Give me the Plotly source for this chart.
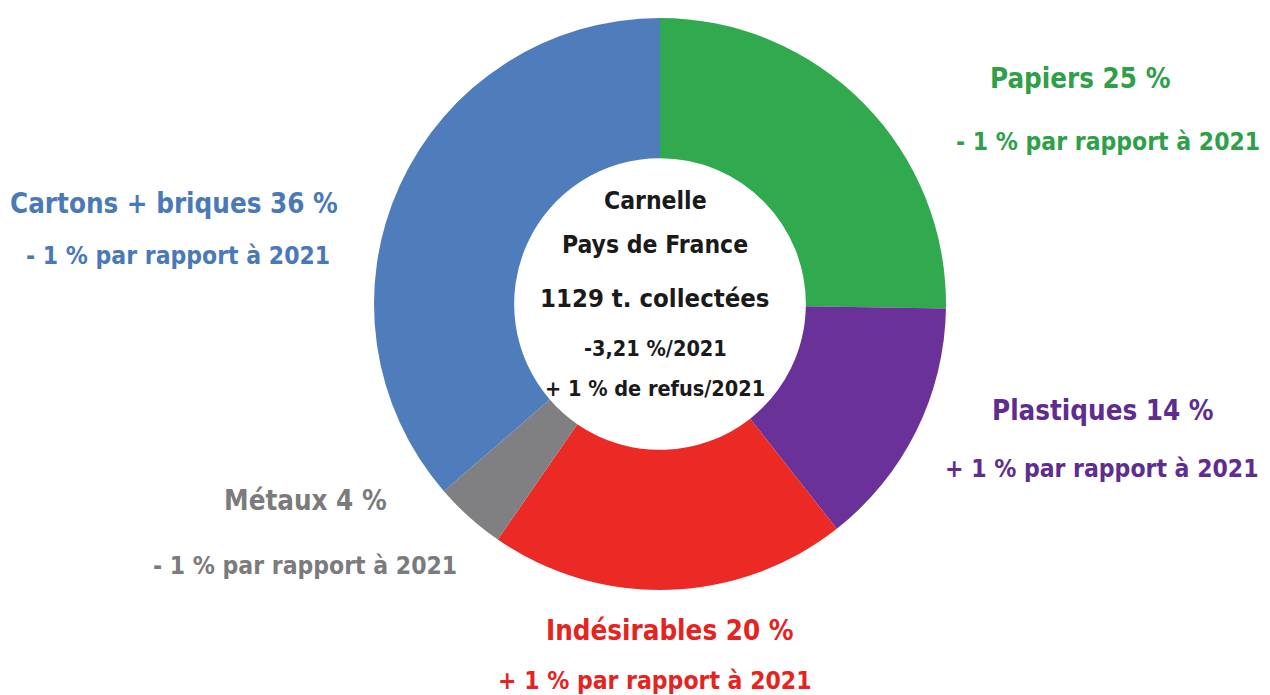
import plotly.graph_objects as go

categories = ["Papiers", "Plastiques", "Indésirables", "Métaux", "Cartons + briques"]
values = [25, 14, 20, 4, 36]
changes = ["- 1 % par rapport à 2021", "+ 1 % par rapport à 2021", "+ 1 % par rapport à 2021",
           "- 1 % par rapport à 2021", "- 1 % par rapport à 2021"]
slice_colors = ["#31a94f", "#6a3299", "#ec2a25", "#808082", "#4f7dbc"]
text_colors = ["#2f9f49", "#5e2d8f", "#e6231f", "#7b7b7d", "#4a79b9"]
center_lines = ["Carnelle", "Pays de France", "1129 t. collectées", "-3,21 %/2021", "+ 1 % de refus/2021"]

W, H = 1270, 695
OFF = 8  # page body margin
FONT = "DejaVu Sans Condensed, Liberation Sans Narrow, DejaVu Sans, sans-serif"


def px(x):
    return (x - OFF) / W


def py(y):
    return 1 - (y - OFF) / H


cx, cy, r = 660, 304, 286
fig = go.Figure(go.Pie(
    labels=categories, values=values, sort=False, direction="clockwise", rotation=0,
    hole=0.51, textinfo="none", hoverinfo="label+percent",
    marker=dict(colors=slice_colors, line=dict(width=0)),
    domain=dict(x=[px(cx - r), px(cx + r)], y=[py(cy + r), py(cy - r)]),
    showlegend=False,
))

# label positions (pixel centres) for title line and change line
label_pos = [
    ((1080, 78), (1108, 141)),
    ((1103, 410), (1102, 468)),
    ((670, 630), (655, 680)),
    ((305, 500), (305, 565)),
    ((174, 203), (178, 255)),
]

ann = []
for cat, val, chg, col, (p1, p2) in zip(categories, values, changes, text_colors, label_pos):
    ann.append(dict(x=px(p1[0]), y=py(p1[1]), xref="paper", yref="paper", showarrow=False,
                    xanchor="center", yanchor="middle",
                    text=f"<b>{cat} {val} %</b>", font=dict(family=FONT, size=27.5, color=col)))
    ann.append(dict(x=px(p2[0]), y=py(p2[1]), xref="paper", yref="paper", showarrow=False,
                    xanchor="center", yanchor="middle",
                    text=f"<b>{chg}</b>", font=dict(family=FONT, size=24.5, color=col)))

center_y = [200, 245, 298, 348, 388]
center_size = [24.5, 24.5, 25.5, 21.5, 21.5]
for t, yy, s in zip(center_lines, center_y, center_size):
    ann.append(dict(x=px(655), y=py(yy), xref="paper", yref="paper", showarrow=False,
                    xanchor="center", yanchor="middle",
                    text=f"<b>{t}</b>", font=dict(family=FONT, size=s, color="#1a1a1a")))

fig.update_layout(
    width=W, height=H, margin=dict(l=0, r=0, t=0, b=0),
    paper_bgcolor="white", plot_bgcolor="white", annotations=ann,
)
fig.write_html("out.html")
